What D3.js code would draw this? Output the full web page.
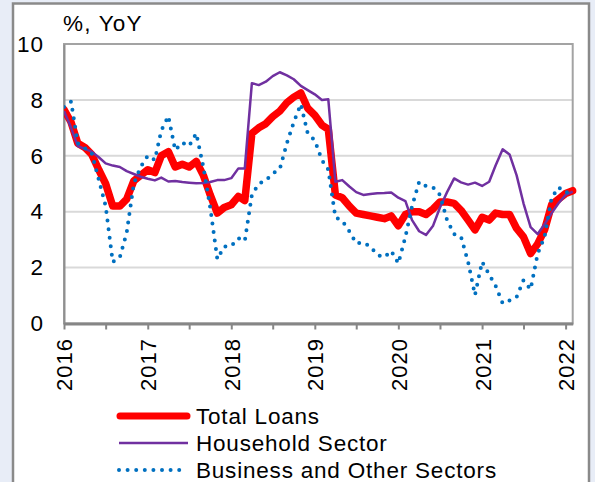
<!DOCTYPE html>
<html>
<head>
<meta charset="utf-8">
<script src="https://cdn.jsdelivr.net/npm/d3@7"></script>
<style>
  html, body { margin: 0; padding: 0; background: #e8edf7; }
  svg { display: block; }
  text { font-family: "Liberation Sans", Arial, sans-serif; fill: #000; }
</style>
</head>
<body>
<svg id="chart" width="595" height="482"></svg>
<script>
// Year-on-year growth of loans, monthly, Jan 2016 – Feb 2022 (%)
const seriesNames = ["Total Loans", "Household Sector", "Business and Other Sectors"];

const totalLoans = [
  7.65, 7.2, 6.45, 6.3, 6.05, 5.5, 5.0, 4.2, 4.2, 4.45, 5.1, 5.3,
  5.5, 5.4, 6.0, 6.15, 5.6, 5.7, 5.6, 5.8, 5.3, 4.6, 3.95, 4.15,
  4.25, 4.55, 4.4, 6.8, 7.0, 7.15, 7.4, 7.6, 7.9, 8.1, 8.25, 7.7,
  7.45, 7.1, 6.95, 4.6, 4.5, 4.2, 3.95, 3.9, 3.85, 3.8, 3.75, 3.85,
  3.5, 3.9, 4.0, 4.0, 3.9, 4.1, 4.35, 4.35, 4.3, 4.05, 3.7, 3.35,
  3.8, 3.7, 3.95, 3.9, 3.9, 3.4, 3.1, 2.5, 2.85, 3.35, 4.25, 4.45,
  4.65, 4.75
];

const household = [
  7.6, 7.0, 6.35, 6.25, 6.15, 5.95, 5.73, 5.65, 5.6, 5.45, 5.35, 5.25,
  5.18, 5.12, 5.22, 5.08, 5.1, 5.06, 5.04, 5.02, 5.03, 5.06, 5.13, 5.13,
  5.2, 5.55, 5.55, 8.6, 8.53, 8.65, 8.85, 8.99, 8.88, 8.74, 8.5, 8.35,
  8.2, 8.0, 8.02, 5.07, 5.13, 4.9, 4.7, 4.6, 4.63, 4.66, 4.67, 4.69,
  4.5, 4.38, 3.7, 3.3, 3.17, 3.5, 4.15, 4.7, 5.19, 5.05, 4.97, 5.04,
  4.92, 5.07, 5.65, 6.23, 6.05, 5.3, 4.3, 3.45, 3.2, 3.55, 3.95, 4.3,
  4.6, 4.72
];

const business = [
  7.75, 7.94, 6.45, 6.27, 6.1, 5.15, 4.2, 2.2, 2.37, 3.25, 5.0, 5.6,
  6.0, 5.85, 6.9, 7.42, 6.2, 6.47, 6.35, 6.8, 5.6, 4.15, 2.3, 2.75,
  2.77, 3.05, 2.95, 4.6, 5.0, 5.12, 5.37, 5.52, 6.45, 7.2, 7.85, 6.8,
  6.55, 5.85, 5.5, 3.8, 3.67, 3.3, 2.87, 2.9, 2.75, 2.45, 2.37, 2.6,
  2.15, 3.1, 4.2, 5.07, 4.92, 4.87, 4.6, 3.7, 3.2, 3.1, 2.2, 1.02,
  2.21, 1.75, 1.35, 0.72, 0.82, 0.95, 1.55, 1.22, 2.5, 3.1, 4.5, 4.87,
  4.68, 4.75
];

const yTicks = [0, 2, 4, 6, 8, 10];
const yearLabels = ["2016", "2017", "2018", "2019", "2020", "2021", "2022"];
const unitLabel = "%, YoY";

// one date per monthly observation, starting January 2016
const dates = totalLoans.map((_, i) => new Date(2016, i, 1));

const svg = d3.select("#chart");
const W = 595, H = 482;
const plot = { left: 64, top: 44, right: 572.7, bottom: 323.5 };

// outer page and white panel
svg.append("rect").attr("width", W).attr("height", H).attr("fill", "#e8edf7");
svg.append("rect")
  .attr("x", 13).attr("y", 3.5).attr("width", 576).attr("height", 520)
  .attr("fill", "#fff").attr("stroke", "#8a8a8a").attr("stroke-width", 2.5);

const x = d3.scaleTime()
  .domain([dates[0], dates[dates.length - 1]])
  .range([plot.left, plot.right]);
const y = d3.scaleLinear().domain([0, 10]).range([plot.bottom, plot.top]);

// horizontal gridlines
svg.append("g")
  .selectAll("line")
  .data(yTicks.filter(v => v > 0 && v < 10))
  .join("line")
  .attr("x1", plot.left).attr("x2", plot.right)
  .attr("y1", d => y(d)).attr("y2", d => y(d))
  .attr("stroke", "#d9d9d9").attr("stroke-width", 2);

// plot area frame
svg.append("rect")
  .attr("x", plot.left).attr("y", plot.top)
  .attr("width", plot.right - plot.left).attr("height", plot.bottom - plot.top)
  .attr("fill", "none").attr("stroke", "#a3a3a3").attr("stroke-width", 2);

// y axis labels
const yAxis = svg.append("g")
  .attr("transform", `translate(${plot.left},0)`)
  .call(d3.axisLeft(y).tickValues(yTicks).tickSize(0).tickPadding(20).tickFormat(d3.format("d")));
yAxis.select(".domain").attr("stroke", "#8f8f8f").attr("stroke-width", 2);
yAxis.selectAll("text")
  .attr("font-size", 22.5).attr("letter-spacing", "1px")
  .attr("font-family", "'Liberation Sans', Arial, sans-serif");

// x axis: ticks every six months, year labels on January ticks
const tickDates = d3.timeMonth.every(6).range(new Date(2016, 0, 1), new Date(2022, 0, 2));
const xAxis = svg.append("g")
  .attr("transform", `translate(0,${plot.bottom})`)
  .call(d3.axisBottom(x)
    .tickValues(tickDates)
    .tickSize(6)
    .tickSizeOuter(0)
    .tickFormat(d => d.getMonth() === 0 ? yearLabels[d.getFullYear() - 2016] : ""));
xAxis.select(".domain").attr("stroke", "#868686").attr("stroke-width", 3);
xAxis.selectAll(".tick line").attr("stroke", "#868686").attr("stroke-width", 2);
xAxis.selectAll("text")
  .attr("font-size", 22).attr("letter-spacing", "1px")
  .attr("font-family", "'Liberation Sans', Arial, sans-serif")
  .attr("transform", "rotate(-90)")
  .attr("text-anchor", "end")
  .attr("x", -14.5).attr("y", 0).attr("dy", "0.36em");

// unit label
svg.append("text")
  .attr("x", 63).attr("y", 31)
  .attr("font-size", 22.5).attr("letter-spacing", "1.2px")
  .text(unitLabel);

// clip series to the plot area
svg.append("clipPath").attr("id", "plotClip")
  .append("rect")
  .attr("x", plot.left).attr("y", plot.top)
  .attr("width", plot.right - plot.left + 4).attr("height", plot.bottom - plot.top);

const line = d3.line().x((d, i) => x(dates[i])).y(d => y(d));
const series = svg.append("g").attr("clip-path", "url(#plotClip)");

const styles = [
  { color: "#ff0000", width: 7.5, dash: null, cap: "round" },
  { color: "#7030a0", width: 2.5, dash: null, cap: "butt" },
  { color: "#0070c0", width: 4, dash: "0 8.6", cap: "round" }
];
const seriesData = [totalLoans, household, business];

seriesData.forEach((vals, k) => {
  const s = styles[k];
  series.append("path")
    .datum(vals)
    .attr("d", line)
    .attr("fill", "none")
    .attr("stroke", s.color)
    .attr("stroke-width", s.width)
    .attr("stroke-linejoin", "round")
    .attr("stroke-linecap", s.cap)
    .attr("stroke-dasharray", s.dash);
});

// legend
const legend = svg.append("g");
const legendRows = legend.selectAll("g")
  .data(seriesNames)
  .join("g")
  .attr("transform", (d, i) => `translate(0,${424 + i * 27})`);

legendRows.append("line")
  .attr("x1", (d, i) => i === 0 ? 120 : 119)
  .attr("x2", (d, i) => i === 0 ? 187 : (i === 1 ? 188 : 181))
  .attr("y1", -8).attr("y2", -8)
  .attr("stroke", (d, i) => styles[i].color)
  .attr("stroke-width", (d, i) => i === 0 ? 7 : styles[i].width)
  .attr("stroke-linecap", (d, i) => styles[i].cap)
  .attr("stroke-dasharray", (d, i) => styles[i].dash);

legendRows.append("text")
  .attr("x", 196).attr("y", 0)
  .attr("font-size", 22.5).attr("letter-spacing", "0.8px")
  .text(d => d);
</script>
</body>
</html>
